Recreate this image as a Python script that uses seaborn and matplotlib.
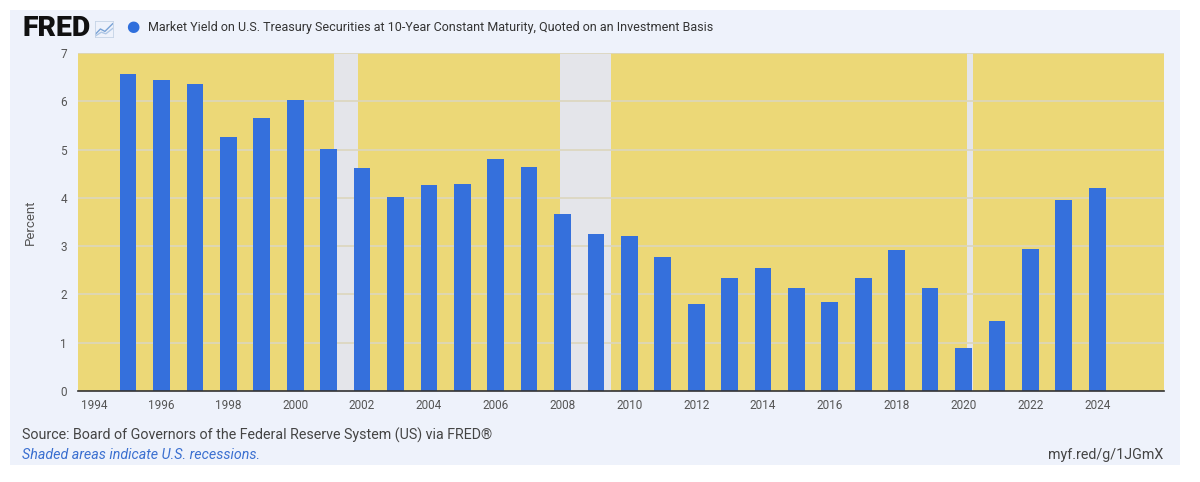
import matplotlib
matplotlib.use("Agg")
import matplotlib.pyplot as plt
from matplotlib.patches import Rectangle
import seaborn as sns
import pandas as pd

# annual 10-year treasury yield (percent)
years = [1995, 1996, 1997, 1998, 1999, 2000, 2001, 2002, 2003, 2004,
         2005, 2006, 2007, 2008, 2009, 2010, 2011, 2012, 2013, 2014,
         2015, 2016, 2017, 2018, 2019, 2020, 2021, 2022, 2023, 2024]
yields = [6.57, 6.44, 6.35, 5.26, 5.65, 6.03, 5.02, 4.61, 4.01, 4.27,
          4.29, 4.80, 4.63, 3.66, 3.26, 3.22, 2.78, 1.80, 2.35, 2.54,
          2.14, 1.84, 2.33, 2.91, 2.14, 0.89, 1.45, 2.95, 3.96, 4.21]

# recession periods as decimal years (start, end)
recessions = [(2001.17, 2001.87), (2007.92, 2009.46), (2020.09, 2020.29)]

x_ticks = list(range(1994, 2025, 2))
y_ticks = list(range(0, 8))

df = pd.DataFrame({"year": years, "yield": yields})

sns.set_style("white")
plt.rcParams["font.family"] = ["Roboto", "DejaVu Sans"]

fig = plt.figure(figsize=(12, 4.82), dpi=100)
fig.patch.set_facecolor("white")

# light panel behind the whole chart
panel = Rectangle((10 / 1200, 1 - 465 / 482), 1170 / 1200, 455 / 482,
                  transform=fig.transFigure, facecolor="#eef2fb",
                  edgecolor="none", zorder=-5)
fig.patches.append(panel)

ax = fig.add_axes([78 / 1200, 1 - 391 / 482, 1086 / 1200, 338 / 482])
ax.set_facecolor("#ecd877")

for start, end in recessions:
    ax.axvspan(start, end, color="#e4e5ea", zorder=1, lw=0)

for yv in y_ticks[1:]:
    ax.axhline(yv, color="#dcd6bd", lw=1.2, zorder=2)

sns.barplot(data=df, x="year", y="yield", native_scale=True, width=0.5,
            color="#3570dc", saturation=1, linewidth=0, errorbar=None,
            ax=ax, zorder=3)

ax.set_xlim(1993.5, 2026.0)
ax.set_ylim(0, 7)
ax.set_xticks(x_ticks)
ax.set_xticklabels([str(t) for t in x_ticks])
ax.set_yticks(y_ticks)
ax.tick_params(axis="both", length=0, labelsize=8.5, colors="#555555", pad=8)
ax.tick_params(axis="x", pad=6)
ax.set_xlabel("")
ax.set_ylabel("Percent", fontsize=9.5, color="#555555", labelpad=17)

for side in ["top", "right", "left"]:
    ax.spines[side].set_visible(False)
ax.spines["bottom"].set_color("#333333")
ax.spines["bottom"].set_linewidth(1.2)
ax.spines["bottom"].set_zorder(4)

# header
fig.text(22 / 1200, 1 - 28 / 482, "FRED", fontsize=20.5, fontweight="black",
         color="#111111", va="center", ha="left")
icon = fig.add_axes([95 / 1200, 1 - 37 / 482, 18 / 1200, 16 / 482])
icon.plot([0, 0.3, 0.55, 1], [0.15, 0.5, 0.35, 0.85], color="#7aa3d6", lw=1)
icon.plot([0, 0.35, 0.6, 1], [0.05, 0.3, 0.2, 0.55], color="#b0c8e6", lw=1)
icon.set_xlim(0, 1)
icon.set_ylim(0, 1)
icon.set_xticks([])
icon.set_yticks([])
for s in icon.spines.values():
    s.set_color("#c5d3e6")
    s.set_linewidth(0.6)
icon.patch.set_alpha(0)

fig.text(133 / 1200, 1 - 27 / 482, "\u25CF", fontsize=11, color="#2f6fdc",
         va="center", ha="center")
fig.text(148 / 1200, 1 - 27 / 482,
         "Market Yield on U.S. Treasury Securities at 10-Year Constant Maturity, "
         "Quoted on an Investment Basis",
         fontsize=9, color="#333333", va="center", ha="left")

# footer
fig.text(22 / 1200, 1 - 435 / 482,
         "Source: Board of Governors of the Federal Reserve System (US) via FRED\u00AE",
         fontsize=10.3, color="#444444", va="center", ha="left")
fig.text(22 / 1200, 1 - 455 / 482, "Shaded areas indicate U.S. recessions.",
         fontsize=10.3, color="#3a6fd0", style="italic", va="center", ha="left")
fig.text(1163 / 1200, 1 - 455 / 482, "myf.red/g/1JGmX",
         fontsize=10.3, color="#444444", va="center", ha="right")

fig.savefig("out.png", dpi=100, facecolor=fig.get_facecolor())
